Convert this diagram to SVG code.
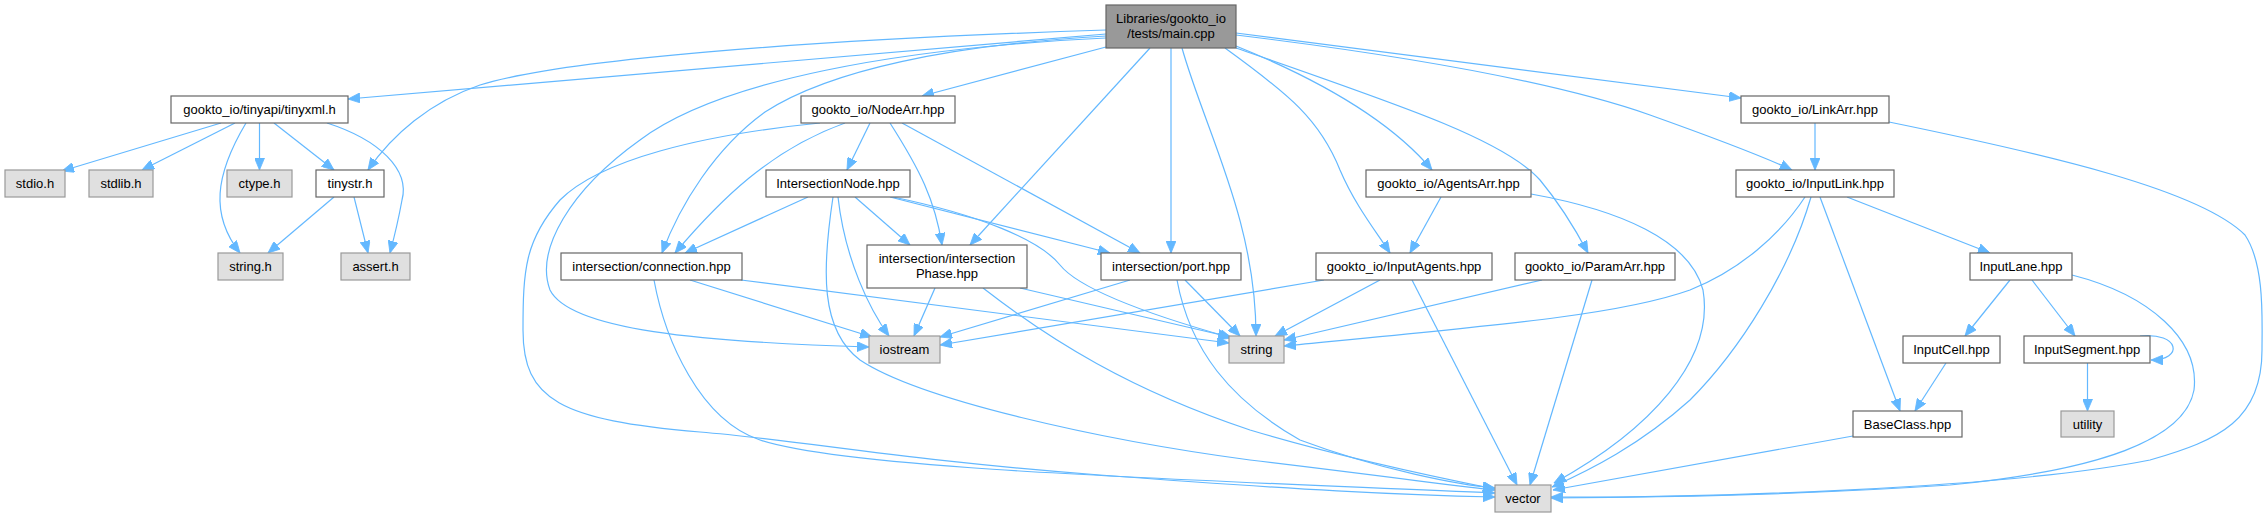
<svg xmlns="http://www.w3.org/2000/svg" width="2268" height="517" viewBox="0 0 2268 517">
<style>
.n rect{fill:#ffffff;stroke:#666666;stroke-width:1.2}
.x rect{fill:#e0e0e0;stroke:#999999;stroke-width:1.2}
.m rect{fill:#999999;stroke:#666666;stroke-width:1.2}
text{font-family:"Liberation Sans",Arial,sans-serif;font-size:13px;fill:#000;text-anchor:middle}
#edges path{fill:none;stroke:#63b8ff;stroke-width:1.2;marker-end:url(#arr)}
</style>
<defs>
<marker id="arr" markerUnits="userSpaceOnUse" markerWidth="13" markerHeight="10" refX="12" refY="5" orient="auto" viewBox="0 0 13 10">
<path d="M0,0 L12,5 L0,10 Z" fill="#63b8ff" stroke="#63b8ff" stroke-width="0.8"/>
</marker>
</defs>
<rect width="2268" height="517" fill="#ffffff"/>
<g id="edges">
<path d="M1106,34 L348,99"/>
<path d="M1106,30 C800,40 560,60 480,85 C430,102 392,135 368,170"/>
<path d="M1106,47 L922,96"/>
<path d="M1106,36 C950,45 830,70 765,112 C715,148 680,205 662,253"/>
<path d="M1106,38 C900,48 720,80 640,140 C570,190 535,250 550,290 C570,330 700,342 869,347"/>
<path d="M1150,48 L970,245"/>
<path d="M1171,48 L1171,253"/>
<path d="M1182,48 C1205,130 1256,220 1256,336"/>
<path d="M1225,48 C1290,95 1320,120 1340,170 C1355,205 1375,230 1390,253"/>
<path d="M1236,46 C1320,80 1390,120 1432,170"/>
<path d="M1236,48 C1400,105 1505,140 1540,180 C1565,210 1580,238 1588,253"/>
<path d="M1236,33 L1741,98"/>
<path d="M1236,35 C1400,55 1550,80 1650,115 C1720,140 1760,155 1792,170"/>
<path d="M221,123 L62,171"/>
<path d="M235,123 L142,170"/>
<path d="M246,123 C215,175 210,215 240,253"/>
<path d="M259.5,123 L259.5,170"/>
<path d="M274,123 L334,170"/>
<path d="M327,123 C380,140 410,170 402,200 C398,222 394,238 390,253"/>
<path d="M334,197 L268,253"/>
<path d="M354,197 L368,253"/>
<path d="M820,123 C700,135 600,160 560,200 C525,240 523,270 523,330 C523,400 560,420 700,432 C800,440 900,460 1100,475 C1300,490 1400,495 1495,497"/>
<path d="M845,123 C770,150 720,200 675,253"/>
<path d="M870,123 L847,170"/>
<path d="M890,123 C920,170 935,200 942,245"/>
<path d="M902,123 L1140,253"/>
<path d="M808,197 L685,253"/>
<path d="M833,197 C822,270 820,330 860,360 C920,400 1100,440 1250,460 C1400,478 1470,488 1495,490"/>
<path d="M838,197 C845,260 870,310 889,336"/>
<path d="M855,197 L910,245"/>
<path d="M890,197 L1110,253"/>
<path d="M893,197 C980,215 1040,240 1060,265 C1080,290 1150,315 1232,338"/>
<path d="M690,280 L872,337"/>
<path d="M741,280 L1229,343"/>
<path d="M654,280 C665,340 700,420 760,440 C850,470 1200,480 1495,493"/>
<path d="M935,288 L914,336"/>
<path d="M1020,288 L1230,337"/>
<path d="M983,288 C1050,340 1130,390 1250,430 C1350,460 1450,480 1495,489"/>
<path d="M1130,280 L940,337"/>
<path d="M1185,280 L1240,336"/>
<path d="M1177,280 C1190,350 1230,400 1300,440 C1380,470 1460,485 1495,488"/>
<path d="M1441,197 L1410,253"/>
<path d="M1531,194 C1620,210 1690,240 1703,290 C1715,360 1650,430 1554,483"/>
<path d="M1324,280 L940,345"/>
<path d="M1380,280 L1275,336"/>
<path d="M1412,280 L1517,485"/>
<path d="M1542,280 L1284,340"/>
<path d="M1592,280 L1530,485"/>
<path d="M1815,123 L1815,170"/>
<path d="M1889,122 C2050,155 2200,190 2245,235 C2265,265 2262,320 2262,350 C2262,420 2220,440 2150,460 C2000,490 1700,497 1551,498"/>
<path d="M1805,197 C1780,235 1740,270 1690,290 C1620,315 1500,325 1284,346"/>
<path d="M1811,197 C1790,270 1740,350 1690,400 C1640,445 1590,470 1552,487"/>
<path d="M1820,197 L1900,411"/>
<path d="M1847,197 L1990,253"/>
<path d="M2010,280 L1965,336"/>
<path d="M2032,280 L2075,336"/>
<path d="M2072,275 C2150,295 2200,340 2194,390 C2185,440 2100,470 1950,485 C1800,495 1650,498 1551,497"/>
<path d="M1946,363 L1915,411"/>
<path d="M2087.5,363 L2087.5,411"/>
<path d="M2140,336 C2180,332 2184,360 2151,360"/>
<path d="M1853,436 L1553,490"/>
</g>
<g id="main" class="m"><rect x="1106" y="5" width="130" height="43"/><text x="1171" y="22.5">Libraries/gookto_io</text><text x="1171" y="37.5">/tests/main.cpp</text></g>
<g id="tinyxml" class="n"><rect x="171" y="96" width="177" height="27"/><text x="259.5" y="114">gookto_io/tinyapi/tinyxml.h</text></g>
<g id="nodearr" class="n"><rect x="801" y="96" width="154" height="27"/><text x="878" y="114">gookto_io/NodeArr.hpp</text></g>
<g id="linkarr" class="n"><rect x="1741" y="96" width="148" height="27"/><text x="1815" y="114">gookto_io/LinkArr.hpp</text></g>
<g id="stdio" class="x"><rect x="5" y="170" width="60" height="27"/><text x="35" y="188">stdio.h</text></g>
<g id="stdlib" class="x"><rect x="89" y="170" width="64" height="27"/><text x="121" y="188">stdlib.h</text></g>
<g id="ctype" class="x"><rect x="227" y="170" width="65" height="27"/><text x="259.5" y="188">ctype.h</text></g>
<g id="tinystr" class="n"><rect x="316" y="170" width="68" height="27"/><text x="350" y="188">tinystr.h</text></g>
<g id="intersectionnode" class="n"><rect x="766" y="170" width="144" height="27"/><text x="838" y="188">IntersectionNode.hpp</text></g>
<g id="agentsarr" class="n"><rect x="1366" y="170" width="165" height="27"/><text x="1448.5" y="188">gookto_io/AgentsArr.hpp</text></g>
<g id="inputlink" class="n"><rect x="1736" y="170" width="158" height="27"/><text x="1815" y="188">gookto_io/InputLink.hpp</text></g>
<g id="stringh" class="x"><rect x="218" y="253" width="65" height="27"/><text x="250.5" y="271">string.h</text></g>
<g id="asserth" class="x"><rect x="341" y="253" width="69" height="27"/><text x="375.5" y="271">assert.h</text></g>
<g id="connection" class="n"><rect x="561" y="253" width="181" height="27"/><text x="651.5" y="271">intersection/connection.hpp</text></g>
<g id="phase" class="n"><rect x="867" y="245" width="160" height="43"/><text x="947" y="262.5">intersection/intersection</text><text x="947" y="277.5">Phase.hpp</text></g>
<g id="port" class="n"><rect x="1101" y="253" width="140" height="27"/><text x="1171" y="271">intersection/port.hpp</text></g>
<g id="inputagents" class="n"><rect x="1316" y="253" width="176" height="27"/><text x="1404" y="271">gookto_io/InputAgents.hpp</text></g>
<g id="paramarr" class="n"><rect x="1515" y="253" width="160" height="27"/><text x="1595" y="271">gookto_io/ParamArr.hpp</text></g>
<g id="inputlane" class="n"><rect x="1970" y="253" width="102" height="27"/><text x="2021" y="271">InputLane.hpp</text></g>
<g id="iostream" class="x"><rect x="869" y="336" width="71" height="27"/><text x="904.5" y="354">iostream</text></g>
<g id="string" class="x"><rect x="1229" y="336" width="55" height="27"/><text x="1256.5" y="354">string</text></g>
<g id="inputcell" class="n"><rect x="1903" y="336" width="97" height="27"/><text x="1951.5" y="354">InputCell.hpp</text></g>
<g id="inputsegment" class="n"><rect x="2024" y="336" width="126" height="27"/><text x="2087" y="354">InputSegment.hpp</text></g>
<g id="baseclass" class="n"><rect x="1853" y="411" width="109" height="26"/><text x="1907.5" y="428.5">BaseClass.hpp</text></g>
<g id="utility" class="x"><rect x="2061" y="411" width="53" height="26"/><text x="2087.5" y="428.5">utility</text></g>
<g id="vector" class="x"><rect x="1495" y="485" width="56" height="27"/><text x="1523" y="503">vector</text></g>
</svg>
